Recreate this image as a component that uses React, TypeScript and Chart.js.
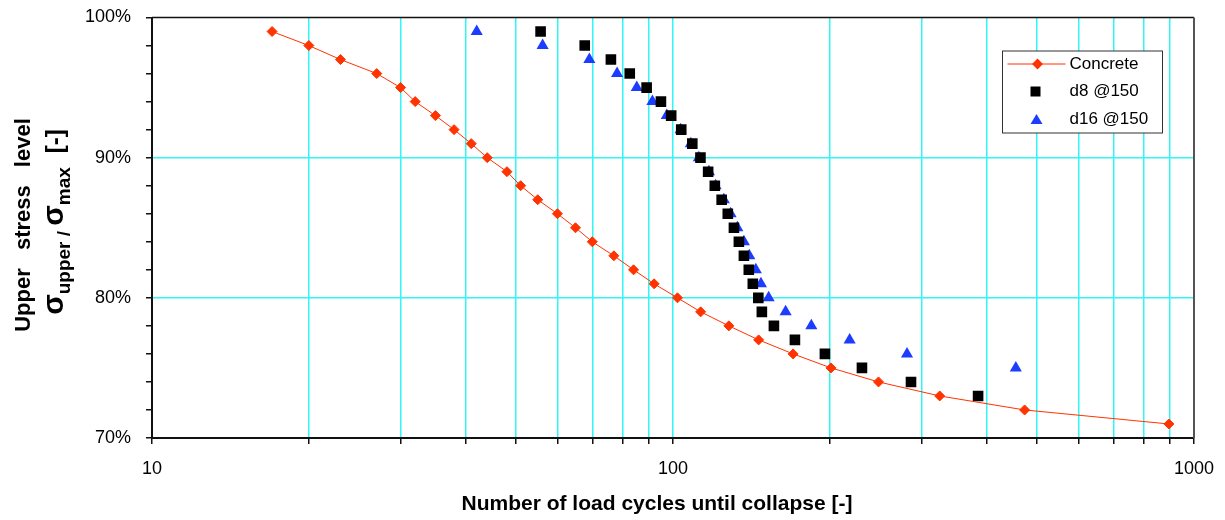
import React, { useEffect, useRef } from 'react';
import { Chart, registerables } from 'chart.js';

Chart.register(...registerables);

// ---- data ----
const concreteCycles = [17, 20, 23, 27, 30, 32, 35, 38, 41, 44, 48, 51, 55, 60, 65, 70, 77, 84, 92, 102, 113, 128, 146, 170, 201, 248, 325, 473, 895];
const concreteLevels = [99, 98, 97, 96, 95, 94, 93, 92, 91, 90, 89, 88, 87, 86, 85, 84, 83, 82, 81, 80, 79, 78, 77, 76, 75, 74, 73, 72, 71];

const d8Cycles = [55.7, 67.7, 76, 82.6, 89, 94.8, 99.2, 103.7, 108.9, 112.9, 116.8, 120.3, 124, 127.4, 130.9, 133.8, 136.8, 139.8, 142.3, 145.8, 148.1, 156.2, 171.4, 195.7, 230.5, 286.3, 385.1];
const d8Levels = [99, 98, 97, 96, 95, 94, 93, 92, 91, 90, 89, 88, 87, 86, 85, 84, 83, 82, 81, 80, 79, 78, 77, 76, 75, 74, 73];

const d16Cycles = [42, 56.2, 69.1, 78.1, 85.2, 91.3, 97.3, 103.4, 108.2, 112.1, 117.2, 120.7, 125.2, 129, 132.9, 136.8, 140.1, 144.2, 147.5, 152.6, 164.5, 184.3, 218.3, 281.3, 455];
const d16Levels = [99, 98, 97, 96, 95, 94, 93, 92, 91, 90, 89, 88, 87, 86, 85, 84, 83, 82, 81, 80, 79, 78, 77, 76, 75];

const seriesNames = ['Concrete', 'd8 @150', 'd16 @150'];

const xTickValues = [10, 20, 30, 40, 50, 60, 70, 80, 90, 100, 200, 300, 400, 500, 600, 700, 800, 900, 1000];
const xTickLabels = [10, 100, 1000];
const yTickLabels = [70, 80, 90, 100];
const yGridValues = [80, 90];

const xTitle = 'Number of load cycles until collapse [-]';
const yTitle = 'Upper stress level';

// ---- styles ----
const FONT = "'Liberation Sans', Arial, sans-serif";
const RED = '#ff3300';
const BLUE = '#1c3cff';
const BLACK = '#000000';
const CYAN = '#30f6f6';

function toPoints(xs: number[], ys: number[]) {
  return xs.map((x, i) => ({ x, y: ys[i] }));
}

const frameAndLegend = {
  id: 'frameAndLegend',
  beforeDatasetsDraw(chart: any) {
    const { ctx, chartArea: a } = chart;
    ctx.save();
    ctx.lineWidth = 2;
    ctx.strokeStyle = '#111';
    ctx.beginPath();
    ctx.moveTo(a.left, a.top);
    ctx.lineTo(a.left, a.bottom);
    ctx.lineTo(a.right, a.bottom);
    ctx.stroke();
    ctx.lineWidth = 1.5;
    ctx.beginPath();
    ctx.moveTo(a.left, a.top);
    ctx.lineTo(a.right, a.top);
    ctx.stroke();
    ctx.strokeStyle = '#555';
    ctx.lineWidth = 2;
    ctx.beginPath();
    ctx.moveTo(a.right, a.top);
    ctx.lineTo(a.right, a.bottom);
    ctx.stroke();
    ctx.restore();
  },
  afterDraw(chart: any) {
    const { ctx, chartArea: a } = chart;
    const bx = a.right - 191.5;
    const by = a.top + 33.5;
    const bw = 160;
    const bh = 82;
    ctx.save();
    ctx.fillStyle = '#ffffff';
    ctx.fillRect(bx, by, bw, bh);
    ctx.strokeStyle = '#333';
    ctx.lineWidth = 1;
    ctx.strokeRect(bx, by, bw, bh);

    const rows = [by + 13, by + 40.5, by + 68];
    const mx = bx + 35;
    // Concrete: line + diamond
    ctx.strokeStyle = RED;
    ctx.lineWidth = 1;
    ctx.beginPath();
    ctx.moveTo(bx + 5, rows[0]);
    ctx.lineTo(bx + 63, rows[0]);
    ctx.stroke();
    ctx.fillStyle = RED;
    ctx.beginPath();
    ctx.moveTo(mx, rows[0] - 5.5);
    ctx.lineTo(mx + 5.5, rows[0]);
    ctx.lineTo(mx, rows[0] + 5.5);
    ctx.lineTo(mx - 5.5, rows[0]);
    ctx.closePath();
    ctx.fill();
    // d8: square
    ctx.fillStyle = BLACK;
    ctx.fillRect(mx - 7, rows[1] - 5, 10, 10);
    // d16: triangle
    ctx.fillStyle = BLUE;
    ctx.beginPath();
    ctx.moveTo(mx - 1, rows[2] - 5);
    ctx.lineTo(mx + 5, rows[2] + 5);
    ctx.lineTo(mx - 7, rows[2] + 5);
    ctx.closePath();
    ctx.fill();

    ctx.fillStyle = BLACK;
    ctx.font = `17px ${FONT}`;
    ctx.textBaseline = 'middle';
    ctx.textAlign = 'left';
    seriesNames.forEach((n, i) => ctx.fillText(n, bx + 67, rows[i]));
    ctx.restore();
  },
};

export default function App() {
  const canvasRef = useRef<HTMLCanvasElement | null>(null);

  useEffect(() => {
    const canvas = canvasRef.current;
    if (!canvas) return;
    const chart = new Chart(canvas, {
      type: 'scatter',
      data: {
        datasets: [
          {
            label: seriesNames[0],
            data: toPoints(concreteCycles, concreteLevels),
            showLine: true,
            borderColor: RED,
            borderWidth: 1,
            backgroundColor: RED,
            pointStyle: 'rectRot',
            pointRadius: 5,
            pointBorderWidth: 1,
            pointBorderColor: RED,
            pointBackgroundColor: RED,
            tension: 0,
          },
          {
            label: seriesNames[1],
            data: toPoints(d8Cycles, d8Levels),
            showLine: false,
            pointStyle: 'rect',
            pointRadius: 7.5,
            pointBorderWidth: 0,
            pointBackgroundColor: BLACK,
            pointBorderColor: BLACK,
          },
          {
            label: seriesNames[2],
            data: toPoints(d16Cycles, d16Levels),
            showLine: false,
            pointStyle: 'triangle',
            pointRadius: 7,
            pointBorderWidth: 0,
            pointBackgroundColor: BLUE,
            pointBorderColor: BLUE,
          },
        ],
      },
      options: {
        responsive: false,
        animation: false,
        devicePixelRatio: 1,
        layout: { padding: { top: 17.5, right: 31, left: 0, bottom: 0 } },
        plugins: {
          legend: { display: false },
          tooltip: { enabled: false },
        },
        scales: {
          x: {
            type: 'logarithmic',
            min: 10,
            max: 1000,
            afterFit: (s: any) => {
              s.height = 82;
              s.paddingLeft = 0;
              s.paddingRight = 0;
            },
            afterBuildTicks: (s: any) => {
              s.ticks = xTickValues.map((v) => ({ value: v }));
            },
            border: { display: false },
            grid: {
              color: (c: any) =>
                c.tick && (c.tick.value === 10 || c.tick.value === 1000) ? 'rgba(0,0,0,0)' : CYAN,
              tickColor: '#111',
              tickLength: 6,
              lineWidth: 1.5,
            },
            ticks: {
              autoSkip: false,
              maxRotation: 0,
              minRotation: 0,
              padding: 14,
              color: BLACK,
              font: { family: FONT, size: 18 },
              callback: (v: any) => (xTickLabels.includes(Number(v)) ? String(v) : ''),
            },
          },
          y: {
            type: 'linear',
            min: 70,
            max: 100,
            afterFit: (s: any) => {
              s.width = 152;
              s.paddingTop = 0;
              s.paddingBottom = 0;
            },
            border: { display: false },
            grid: {
              color: (c: any) =>
                c.tick && yGridValues.includes(c.tick.value) ? CYAN : 'rgba(0,0,0,0)',
              tickColor: '#111',
              tickLength: 6,
              lineWidth: 1.5,
            },
            ticks: {
              stepSize: 2,
              padding: 15,
              color: BLACK,
              font: { family: FONT, size: 18 },
              callback: (v: any) => (yTickLabels.includes(Number(v)) ? `${v}%` : ''),
            },
          },
        },
      },
      plugins: [frameAndLegend],
    } as any);
    return () => chart.destroy();
  }, []);

  const rotated: React.CSSProperties = {
    position: 'absolute',
    transform: 'translate(-50%, -50%) rotate(-90deg)',
    whiteSpace: 'nowrap',
    fontFamily: FONT,
    fontWeight: 'bold',
    color: BLACK,
    lineHeight: 1,
  };

  const sub: React.CSSProperties = { fontSize: 19, verticalAlign: -7 };

  return (
    <div style={{ position: 'fixed', left: 0, top: 0, width: 1225, height: 520, background: '#fff' }}>
      <canvas ref={canvasRef} width={1225} height={520} style={{ display: 'block' }} />
      <div style={{ ...rotated, left: 23, top: 225, fontSize: 22, wordSpacing: 12 }}>{yTitle}</div>
      <div style={{ ...rotated, left: 55, top: 222, fontSize: 30 }}>
        σ<span style={sub}>upper / </span>σ<span style={sub}>max</span>
        <span style={{ fontSize: 24, marginLeft: 14 }}>[-]</span>
      </div>
      <div
        style={{
          position: 'absolute',
          left: 657,
          top: 502,
          transform: 'translate(-50%, -50%)',
          whiteSpace: 'nowrap',
          fontFamily: FONT,
          fontWeight: 'bold',
          fontSize: 21,
          color: BLACK,
          lineHeight: 1,
        }}
      >
        {xTitle}
      </div>
    </div>
  );
}
